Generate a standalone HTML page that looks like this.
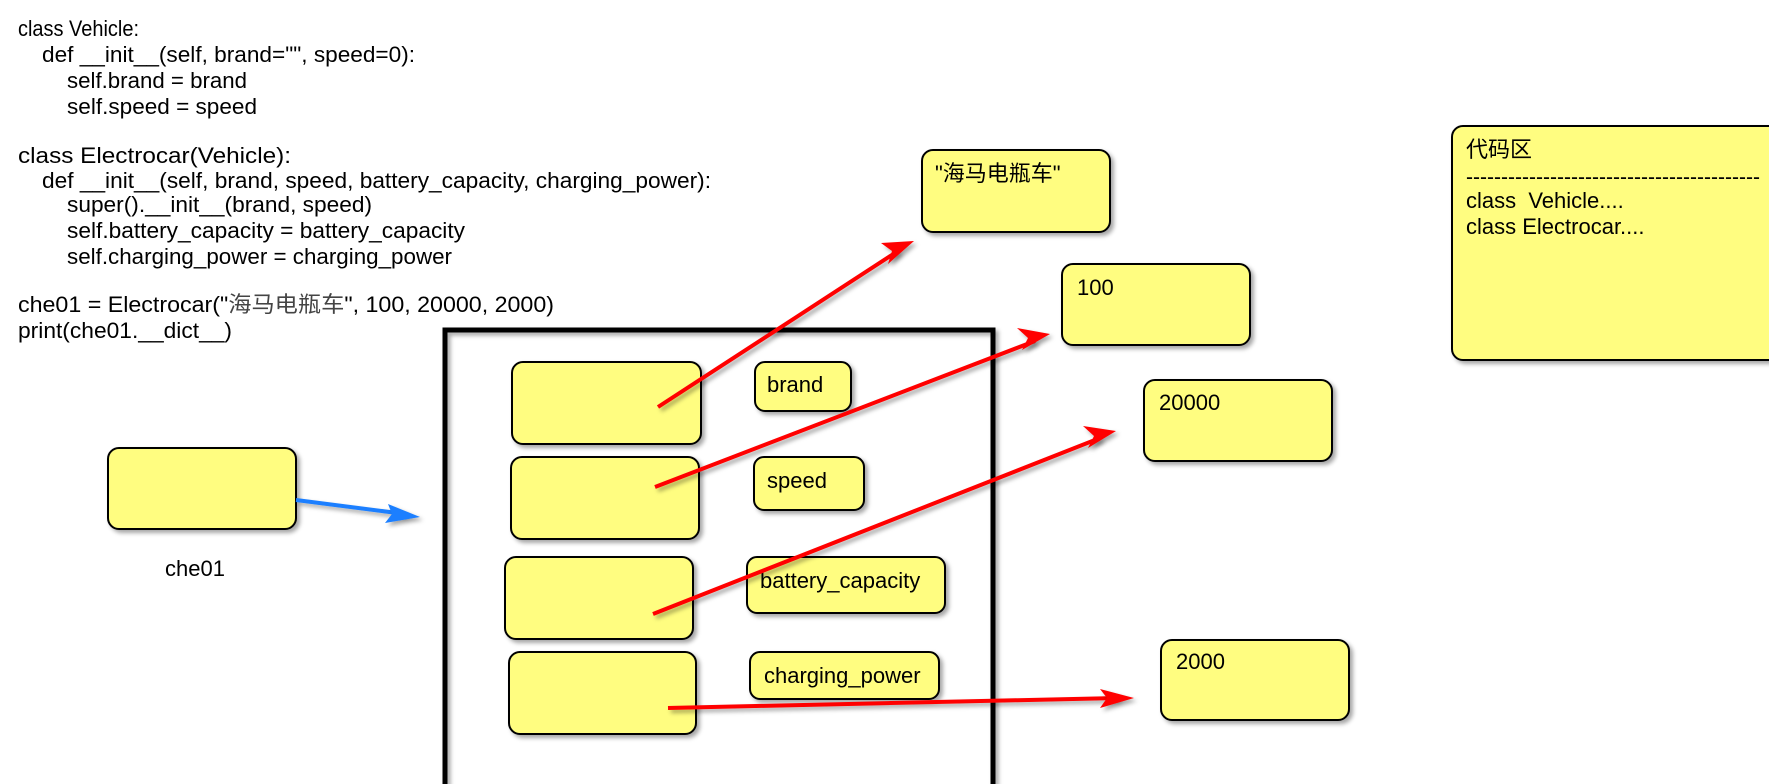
<!DOCTYPE html>
<html><head><meta charset="utf-8"><style>
html,body{margin:0;padding:0;background:#fff;width:1769px;height:784px;overflow:hidden}
svg text{font-family:"Liberation Sans","Noto Sans CJK SC",sans-serif;fill:#000}
</style></head><body>
<svg width="1769" height="784" viewBox="0 0 1769 784" xmlns="http://www.w3.org/2000/svg">
<defs>
<filter id="sh" x="-10%" y="-10%" width="130%" height="130%"><feDropShadow dx="3" dy="3" stdDeviation="2" flood-color="#000" flood-opacity="0.35"/></filter>
</defs>
<g font-size="22" lengthAdjust="spacingAndGlyphs">
<text x="18" y="36" textLength="121" lengthAdjust="spacingAndGlyphs">class Vehicle:</text>
<text x="42" y="62" textLength="373" lengthAdjust="spacingAndGlyphs">def __init__(self, brand="", speed=0):</text>
<text x="67" y="88" textLength="180" lengthAdjust="spacingAndGlyphs">self.brand = brand</text>
<text x="67" y="114" textLength="190" lengthAdjust="spacingAndGlyphs">self.speed = speed</text>
<text x="18" y="163" textLength="273" lengthAdjust="spacingAndGlyphs">class Electrocar(Vehicle):</text>
<text x="42" y="188" textLength="669" lengthAdjust="spacingAndGlyphs">def __init__(self, brand, speed, battery_capacity, charging_power):</text>
<text x="67" y="212" textLength="305" lengthAdjust="spacingAndGlyphs">super().__init__(brand, speed)</text>
<text x="67" y="238" textLength="398" lengthAdjust="spacingAndGlyphs">self.battery_capacity = battery_capacity</text>
<text x="67" y="264" textLength="385" lengthAdjust="spacingAndGlyphs">self.charging_power = charging_power</text>
<text x="18" y="312" textLength="536" lengthAdjust="spacingAndGlyphs">che01 = Electrocar("<tspan fill="#444">海马电瓶车</tspan>", 100, 20000, 2000)</text>
<text x="18" y="338" textLength="214" lengthAdjust="spacingAndGlyphs">print(che01.__dict__)</text>
</g>
<rect x="445" y="330" width="548" height="460" fill="none" stroke="#000" stroke-width="5" filter="url(#sh)"/>
<g fill="#fffd80" stroke="#000" stroke-width="2" filter="url(#sh)">
<rect x="108" y="448" width="188" height="81" rx="11"/>
<rect x="512" y="362" width="189" height="82" rx="11"/>
<rect x="511" y="457" width="188" height="82" rx="11"/>
<rect x="505" y="557" width="188" height="82" rx="11"/>
<rect x="509" y="652" width="187" height="82" rx="11"/>
<rect x="755" y="362" width="96" height="49" rx="10"/>
<rect x="754" y="457" width="110" height="53" rx="10"/>
<rect x="747" y="557" width="198" height="56" rx="10"/>
<rect x="750" y="652" width="189" height="47" rx="10"/>
<rect x="922" y="150" width="188" height="82" rx="11"/>
<rect x="1062" y="264" width="188" height="81" rx="11"/>
<rect x="1144" y="380" width="188" height="81" rx="11"/>
<rect x="1161" y="640" width="188" height="80" rx="11"/>
<rect x="1452" y="126" width="330" height="234" rx="11"/>
</g>
<g font-size="22">
<text x="767" y="392">brand</text>
<text x="767" y="488">speed</text>
<text x="760" y="588">battery_capacity</text>
<text x="764" y="683">charging_power</text>
<text x="935" y="181" fill="#444">"海马电瓶车"</text>
<text x="1077" y="295">100</text>
<text x="1159" y="410">20000</text>
<text x="1176" y="669">2000</text>
<text x="165" y="576">che01</text>
<text x="1466" y="157" fill="#555">代码区</text>
<text x="1466" y="184" textLength="294" lengthAdjust="spacingAndGlyphs">------------------------------------------</text>
<text x="1466" y="208" xml:space="preserve">class  Vehicle....</text>
<text x="1466" y="234">class Electrocar....</text>
</g>
<g stroke-width="4" fill="none" filter="url(#sh)">
<line x1="296" y1="500" x2="405" y2="514" stroke="#1a7fff"/>
<line x1="658" y1="407" x2="898" y2="251" stroke="#ff0000"/>
<line x1="655" y1="487" x2="1035" y2="341" stroke="#ff0000"/>
<line x1="653" y1="614" x2="1100" y2="438" stroke="#ff0000"/>
<line x1="668" y1="708" x2="1118" y2="698" stroke="#ff0000"/>
</g>
<g filter="url(#sh)">
<polygon points="420,517 385,523 392,514 388,504" fill="#1a7fff"/>
<polygon points="914,241 888,264 892,251 881,243" fill="#ff0000"/>
<polygon points="1050,334 1022,350 1028,338 1017,328" fill="#ff0000"/>
<polygon points="1116,431 1088,448 1094,436 1083,426" fill="#ff0000"/>
<polygon points="1134,698 1100,708 1107,698 1100,689" fill="#ff0000"/>
</g>
</svg>
</body></html>
